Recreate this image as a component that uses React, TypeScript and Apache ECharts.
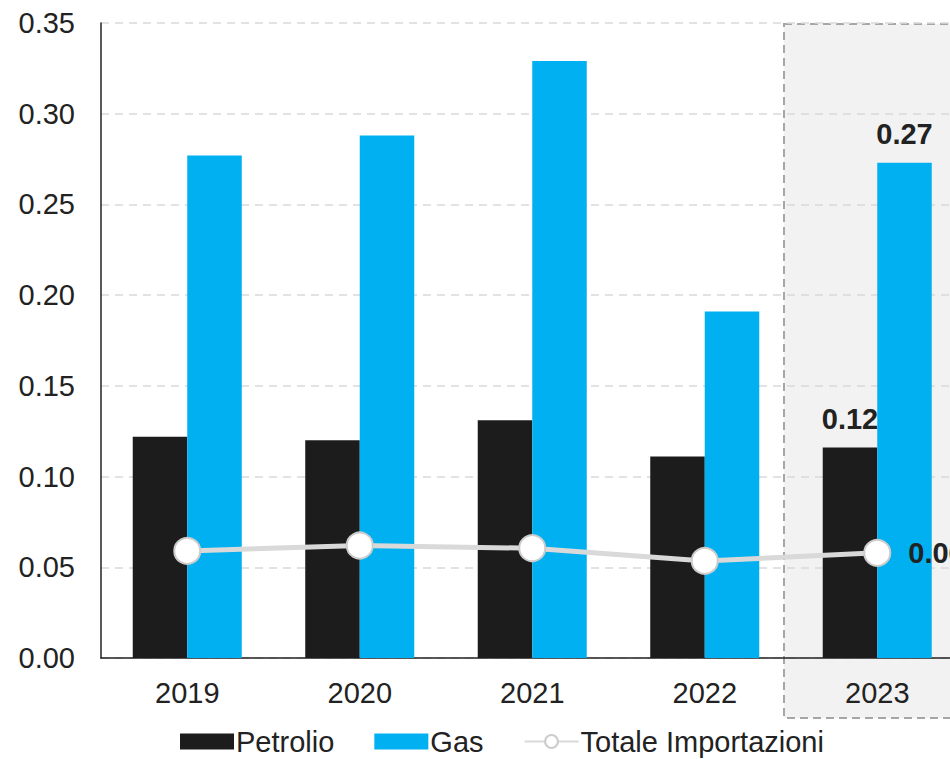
import React, { useEffect, useRef } from "react";
import * as echarts from "echarts";

const categories = ["2019", "2020", "2021", "2022", "2023"];
const petrolio = [0.122, 0.12, 0.131, 0.111, 0.116];
const gas = [0.277, 0.288, 0.329, 0.191, 0.273];
const totale = [0.059, 0.062, 0.0605, 0.0535, 0.058];

const FONT = "'Liberation Sans', Arial, sans-serif";
const TXT = "#222222";
const CHART_W = 1000;
const FS = 29;

function withLastLabel(values: number[], label: any) {
  return values.map((v, i) =>
    i === values.length - 1 ? { value: v, label: { show: true, ...label } } : v
  );
}

export default function App() {
  const ref = useRef<HTMLDivElement>(null);
  useEffect(() => {
    if (!ref.current) return;
    const chart = echarts.init(ref.current, undefined, { renderer: "svg" });
    const labelBase = {
      fontFamily: FONT,
      fontSize: FS,
      fontWeight: "bold",
      color: TXT,
      formatter: (p: any) => Number(p.value).toFixed(2),
    };
    chart.setOption({
      animation: false,
      backgroundColor: "#ffffff",
      textStyle: { fontFamily: FONT },
      graphic: [
        {
          type: "rect",
          z: -10,
          silent: true,
          shape: { x: 784, y: 24, width: 250, height: 694 },
          style: {
            fill: "#f2f2f2",
            stroke: "#a6a6a6",
            lineWidth: 2,
            lineDash: [8, 5],
          },
        },
      ],
      grid: { left: 101, top: 23, bottom: 101, right: CHART_W - 963.5, containLabel: false },
      legend: {
        left: 180,
        top: 726,
        padding: 0,
        itemWidth: 54,
        itemHeight: 16,
        itemGap: 40,
        textStyle: { fontFamily: FONT, fontSize: FS, lineHeight: 31, color: TXT, padding: [0, 0, 0, -3] },
        data: [
          { name: "Petrolio", icon: "rect" },
          { name: "Gas", icon: "rect" },
          { name: "Totale Importazioni" },
        ],
      },
      xAxis: {
        type: "category",
        data: categories,
        axisLine: { show: true, lineStyle: { color: "#222", width: 1.5 } },
        axisTick: { show: false },
        axisLabel: { fontFamily: FONT, fontSize: FS, color: TXT, margin: 20 },
      },
      yAxis: {
        type: "value",
        min: 0,
        max: 0.35,
        interval: 0.05,
        axisLine: { show: true, lineStyle: { color: "#222", width: 1.5 } },
        axisTick: { show: false },
        axisLabel: {
          fontFamily: FONT,
          fontSize: FS,
          color: TXT,
          margin: 26,
          formatter: (v: number) => v.toFixed(2),
        },
        splitLine: { show: true, lineStyle: { color: "#d9d9d9", type: [8, 6], width: 1.5 } },
      },
      series: [
        {
          name: "Petrolio",
          type: "bar",
          barWidth: "31.6%",
          barGap: "0%",
          itemStyle: { color: "#1b1c1b" },
          data: withLastLabel(petrolio, { ...labelBase, position: "top", distance: 14 }),
        },
        {
          name: "Gas",
          type: "bar",
          barWidth: "31.6%",
          barGap: "0%",
          itemStyle: { color: "#00b0f0" },
          data: withLastLabel(gas, { ...labelBase, position: "top", distance: 14 }),
        },
        {
          name: "Totale Importazioni",
          type: "line",
          symbol: "circle",
          symbolSize: 26,
          z: 5,
          lineStyle: { color: "#d9d9d9", width: 5 },
          itemStyle: { color: "#ffffff", borderColor: "#cccccc", borderWidth: 2 },
          data: withLastLabel(totale, { ...labelBase, position: "right", distance: 17 }),
        },
      ],
    });
    return () => chart.dispose();
  }, []);
  return (
    <div style={{ position: "absolute", left: 0, top: 0, width: 950, height: 759, overflow: "hidden" }}>
      <div ref={ref} style={{ width: CHART_W, height: 759 }} />
    </div>
  );
}
